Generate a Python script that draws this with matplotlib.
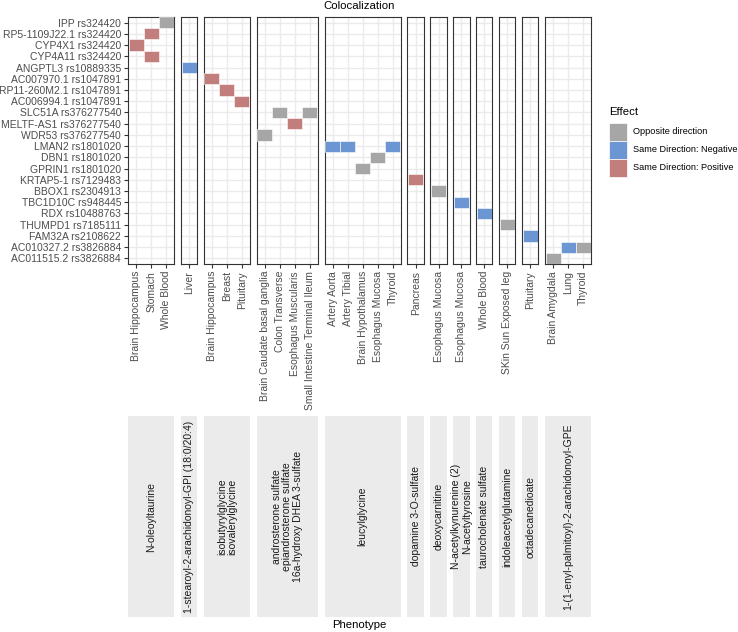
import matplotlib.pyplot as plt
from matplotlib.patches import Rectangle

plt.rcParams['font.family'] = ['Liberation Sans', 'DejaVu Sans']

# rows (top to bottom)
genes = ['IPP rs324420', 'RP5-1109J22.1 rs324420', 'CYP4X1 rs324420', 'CYP4A11 rs324420',
         'ANGPTL3 rs10889335', 'AC007970.1 rs1047891', 'RP11-260M2.1 rs1047891',
         'AC006994.1 rs1047891', 'SLC51A rs376277540', 'MELTF-AS1 rs376277540',
         'WDR53 rs376277540', 'LMAN2 rs1801020', 'DBN1 rs1801020', 'GPRIN1 rs1801020',
         'KRTAP5-1 rs7129483', 'BBOX1 rs2304913', 'TBC1D10C rs948445', 'RDX rs10488763',
         'THUMPD1 rs7185111', 'FAM32A rs2108622', 'AC010327.2 rs3826884', 'AC011515.2 rs3826884']

phenotypes = ['N-oleoyltaurine',
              '1-stearoyl-2-arachidonoyl-GPI (18:0/20:4)',
              'isobutyrylglycine\nisovalerylglycine',
              'androsterone sulfate\nepiandrosterone sulfate\n16a-hydroxy DHEA 3-sulfate',
              'leucylglycine',
              'dopamine 3-O-sulfate',
              'deoxycarnitine',
              'N-acetylkynurenine (2)\nN-acetyltyrosine',
              'taurocholenate sulfate',
              'indoleacetylglutamine',
              'octadecanedioate',
              '1-(1-enyl-palmitoyl)-2-arachidonoyl-GPE']

tissues = [['Brain Hippocampus', 'Stomach', 'Whole Blood'],
           ['Liver'],
           ['Brain Hippocampus', 'Breast', 'Pituitary'],
           ['Brain Caudate basal ganglia', 'Colon Transverse', 'Esophagus Muscularis',
            'Small Intestine Terminal Ileum'],
           ['Artery Aorta', 'Artery Tibial', 'Brain Hypothalamus', 'Esophagus Mucosa', 'Thyroid'],
           ['Pancreas'],
           ['Esophagus Mucosa'],
           ['Esophagus Mucosa'],
           ['Whole Blood'],
           ['SKin Sun Exposed leg'],
           ['Pituitary'],
           ['Brain Amygdala', 'Lung', 'Thyroid']]

effects = ['Opposite direction', 'Same Direction: Negative', 'Same Direction: Positive']
effect_colors = ['#A6A6A6', '#6B95D3', '#C27D7D']

tile_panel = [0, 0, 0, 0, 1, 2, 2, 2, 3, 3, 3, 3, 4, 4, 4, 4, 4, 5, 6, 7, 8, 9, 10, 11, 11, 11]
tile_gene = ['IPP rs324420', 'RP5-1109J22.1 rs324420', 'CYP4X1 rs324420', 'CYP4A11 rs324420',
             'ANGPTL3 rs10889335',
             'AC007970.1 rs1047891', 'RP11-260M2.1 rs1047891', 'AC006994.1 rs1047891',
             'SLC51A rs376277540', 'SLC51A rs376277540', 'MELTF-AS1 rs376277540', 'WDR53 rs376277540',
             'LMAN2 rs1801020', 'LMAN2 rs1801020', 'LMAN2 rs1801020', 'DBN1 rs1801020', 'GPRIN1 rs1801020',
             'KRTAP5-1 rs7129483', 'BBOX1 rs2304913', 'TBC1D10C rs948445', 'RDX rs10488763',
             'THUMPD1 rs7185111', 'FAM32A rs2108622',
             'AC010327.2 rs3826884', 'AC010327.2 rs3826884', 'AC011515.2 rs3826884']
tile_tissue = ['Whole Blood', 'Stomach', 'Brain Hippocampus', 'Stomach',
               'Liver',
               'Brain Hippocampus', 'Breast', 'Pituitary',
               'Colon Transverse', 'Small Intestine Terminal Ileum', 'Esophagus Muscularis',
               'Brain Caudate basal ganglia',
               'Artery Aorta', 'Artery Tibial', 'Thyroid', 'Esophagus Mucosa', 'Brain Hypothalamus',
               'Pancreas', 'Esophagus Mucosa', 'Esophagus Mucosa', 'Whole Blood',
               'SKin Sun Exposed leg', 'Pituitary',
               'Lung', 'Thyroid', 'Brain Amygdala']
tile_effect = [0, 2, 2, 2,
               1,
               2, 2, 2,
               0, 0, 2, 0,
               1, 1, 1, 0, 0,
               2, 0, 1, 1, 0, 1,
               1, 0, 0]

W, H = 738, 632
fig = plt.figure(figsize=(W / 100, H / 100), dpi=100)

unit = 15.0      # px per column
pad = 0.65       # px padding each side of a panel
gap = 6.6        # px between panels
x = 128.0
top, bottom = 17, 264
strip_top, strip_bottom = 416, 617
grey30 = '#4D4D4D'

for i, tl in enumerate(tissues):
    n = len(tl)
    w = n * unit + 2 * pad
    ax = fig.add_axes([x / W, 1 - bottom / H, w / W, (bottom - top) / H])
    ax.set_xlim(-0.5 - pad / unit, n - 0.5 + pad / unit)
    ax.set_ylim(len(genes) - 0.5, -0.5)
    ax.set_xticks(range(n))
    ax.set_xticklabels(tl, rotation=90, fontsize=7.5, color=grey30, va='top', ha='center')
    ax.set_yticks(range(len(genes)))
    if i == 0:
        ax.set_yticklabels(genes, fontsize=7.5, color=grey30)
    else:
        ax.tick_params(left=False, labelleft=False)
    ax.tick_params(length=3, width=0.8, color='#333333', pad=2)
    ax.grid(True, color='#EBEBEB', lw=1.0)
    ax.set_axisbelow(True)
    for s in ax.spines.values():
        s.set_color('#333333')
        s.set_linewidth(0.8)

    for p, g, t, e in zip(tile_panel, tile_gene, tile_tissue, tile_effect):
        if p != i:
            continue
        ax.bar(tl.index(t), 1, bottom=genes.index(g) - 0.5, width=1,
               color=effect_colors[e], edgecolor='white', linewidth=0.4, zorder=3)

    # strip at the bottom
    sax = fig.add_axes([x / W, 1 - strip_bottom / H, w / W, (strip_bottom - strip_top) / H])
    sax.set_facecolor('#EBEBEB')
    sax.set_xticks([])
    sax.set_yticks([])
    for s in sax.spines.values():
        s.set_visible(False)
    sax.text(0.5, 0.5, phenotypes[i], rotation=90, ha='center', va='center',
             multialignment='center', fontsize=7.5, color='#1A1A1A', linespacing=1.05,
             transform=sax.transAxes)

    x += w + gap

fig.text(359.5 / W, 1 - 6 / H, 'Colocalization', ha='center', va='center', fontsize=8.2)
fig.text(359.5 / W, 1 - 625 / H, 'Phenotype', ha='center', va='center', fontsize=8.2)

# legend
fig.text(609 / W, 1 - 112 / H, 'Effect', ha='left', va='center', fontsize=8.2)
for k, (lab, col) in enumerate(zip(effects, effect_colors)):
    y0 = 123 + 18 * k
    fig.patches.append(Rectangle((609 / W, 1 - (y0 + 18) / H), 18 / W, 18 / H,
                                 transform=fig.transFigure, facecolor=col,
                                 edgecolor='white', linewidth=0.5))
    fig.text(633 / W, 1 - (y0 + 9) / H, lab, ha='left', va='center', fontsize=6.6)

fig.savefig('out.png', dpi=100)
